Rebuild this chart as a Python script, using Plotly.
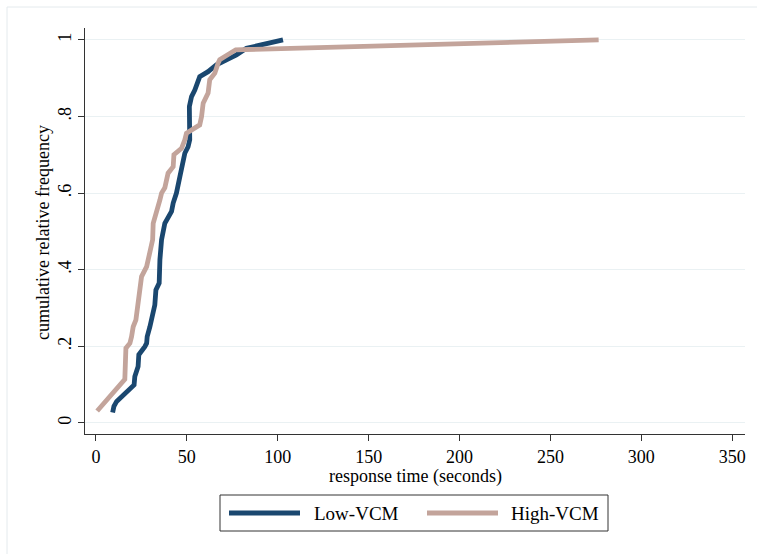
import plotly.graph_objects as go

# Cumulative relative frequency of response times, by group
low_time = [9.2, 9.9, 11.4, 21.0, 21.4, 23.2, 23.6, 25.1, 26.9, 27.9, 28.2, 29.7,
            31.5, 32.4, 33.0, 34.8, 35.2, 36.1, 37.9, 39.7, 41.6, 42.5, 44.3, 46.2,
            48.0, 48.9, 50.7, 51.6, 51.4, 52.6, 54.4, 56.2, 57.1, 61.7, 66.3, 71.8,
            77.3, 82.8, 102.9]
low_cum = [0.027, 0.043, 0.056, 0.099, 0.121, 0.147, 0.178, 0.186, 0.199, 0.208,
           0.225, 0.251, 0.286, 0.308, 0.347, 0.365, 0.426, 0.478, 0.521, 0.534,
           0.552, 0.574, 0.600, 0.643, 0.678, 0.704, 0.721, 0.739, 0.826, 0.852,
           0.869, 0.896, 0.904, 0.917, 0.935, 0.948, 0.961, 0.978, 1.0]

high_time = [0.7, 15.9, 16.5, 18.7, 19.6, 20.5, 22.0, 22.7, 23.2, 25.1, 27.9, 29.7,
             31.2, 31.5, 33.4, 35.2, 36.1, 37.9, 39.7, 42.5, 42.9, 47.1, 48.9, 49.8,
             57.1, 58.1, 59.0, 61.7, 62.6, 65.4, 67.2, 68.1, 76.9, 276.5]
high_cum = [0.031, 0.114, 0.195, 0.208, 0.225, 0.251, 0.269, 0.295, 0.308, 0.382,
            0.408, 0.443, 0.478, 0.521, 0.548, 0.582, 0.600, 0.614, 0.652, 0.669,
            0.700, 0.717, 0.739, 0.756, 0.778, 0.800, 0.835, 0.861, 0.896, 0.913,
            0.939, 0.948, 0.974, 1.0]

series_names = ["Low-VCM", "High-VCM"]
series_colors = ["#1a476f", "#c3a49b"]

x_ticks = [0, 50, 100, 150, 200, 250, 300, 350]
y_ticks = [0, 0.2, 0.4, 0.6, 0.8, 1.0]
y_tick_text = ["0", ".2", ".4", ".6", ".8", "1"]

FONT = "Liberation Serif"

fig = go.Figure()
for xs, ys, name, color in zip([low_time, high_time], [low_cum, high_cum],
                               series_names, series_colors):
    fig.add_trace(go.Scatter(x=xs, y=ys, mode="lines", name=name,
                             line=dict(color=color, width=4.8),
                             showlegend=False))

# Hand-built legend box below the plot
L, R, T, B = 85, 12, 28, 120
W, H = 757, 554
pw, ph = W - L - R, H - T - B


def px(x):
    return (x - L) / pw


def py(y):
    return (H - B - y) / ph


shapes = [
    # outer light frame
    dict(type="rect", xref="paper", yref="paper", x0=px(7), x1=px(800),
         y0=py(600), y1=py(7), line=dict(color="#e4eaed", width=1), layer="below"),
    # legend box
    dict(type="rect", xref="paper", yref="paper", x0=px(220), x1=px(608),
         y0=py(531), y1=py(495), line=dict(color="#333333", width=1)),
]
annotations = []
leg_line_x = [(229, 300), (427, 498)]
leg_text_x = [312, 509]
for (x0, x1), tx, name, color in zip(leg_line_x, leg_text_x, series_names, series_colors):
    shapes.append(dict(type="line", xref="paper", yref="paper", x0=px(x0), x1=px(x1),
                       y0=py(513), y1=py(513), line=dict(color=color, width=4.8)))
    annotations.append(dict(text=name, xref="paper", yref="paper", x=px(tx), y=py(513),
                            xanchor="left", yanchor="middle", showarrow=False,
                            font=dict(family=FONT, size=19, color="black")))

annotations.append(dict(text="response time (seconds)", xref="paper", yref="paper",
                        x=px(415), y=py(476), xanchor="center", yanchor="middle",
                        showarrow=False, font=dict(family=FONT, size=18, color="black")))
annotations.append(dict(text="cumulative relative frequency", xref="paper", yref="paper",
                        x=px(43), y=py(233), xanchor="center", yanchor="middle",
                        textangle=-90, showarrow=False,
                        font=dict(family=FONT, size=18, color="black")))

fig.update_layout(
    width=W, height=H,
    margin=dict(l=L, r=R, t=T, b=B),
    paper_bgcolor="white", plot_bgcolor="white",
    font=dict(family=FONT, size=18, color="black"),
    shapes=shapes, annotations=annotations,
    xaxis=dict(range=[-6, 357], tickvals=x_ticks, showgrid=False, zeroline=False,
               showline=True, linecolor="#333333", linewidth=1.3,
               ticks="outside", ticklen=6, tickcolor="#333333",
               tickfont=dict(family=FONT, size=18)),
    yaxis=dict(range=[-0.029, 1.031], tickvals=y_ticks, ticktext=y_tick_text,
               tickangle=-90, showgrid=True, gridcolor="#eaf1f3", gridwidth=1.3,
               zeroline=False, showline=True, linecolor="#333333", linewidth=1.3,
               ticks="outside", ticklen=6, tickcolor="#333333",
               tickfont=dict(family=FONT, size=18)),
)

fig.write_html("out.html")
